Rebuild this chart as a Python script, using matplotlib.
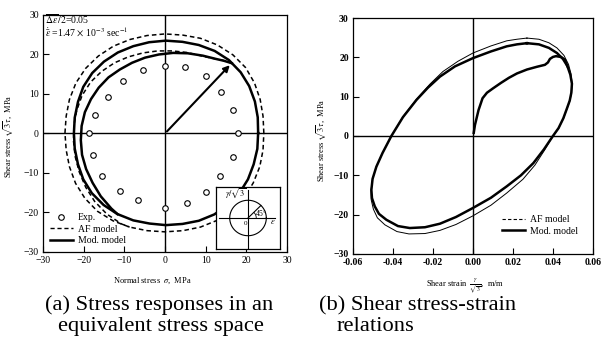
import numpy as np
import matplotlib.pyplot as plt
from matplotlib.lines import Line2D

plt.rcParams['font.family'] = ['Liberation Serif', 'DejaVu Serif']
plt.rcParams['mathtext.fontset'] = 'stix'

# (a) stress path, sigma / sqrt(3)tau in MPa
exp_sigma = [0, 4.9, 10.2, 13.8, 16.8, 18.0, 16.8, 13.5, 10.1, 5.3,
             0, -6.6, -11.1, -15.6, -17.8, -18.6, -17.2, -13.9, -10.4, -5.3]
exp_tau = [17.2, 16.8, 14.6, 10.4, 5.9, 0.0, -5.9, -10.8, -14.9, -17.7,
           -18.8, -16.8, -14.6, -10.7, -5.5, 0.1, 4.7, 9.3, 13.3, 16.1]

load_sigma = [0, 16.4]
load_tau = [0, 17.8]

mod_first_sigma = [16.4, 14.5, 12.4, 9.3, 5.6, 2.0, -1.5, -4.9, -8.1, -11.1, -13.9,
                   -16.3, -18.2, -19.7, -20.5, -20.7, -20.4, -19.4, -17.8, -15.8,
                   -13.2, -11.7]
mod_first_tau = [17.8, 18.4, 18.9, 19.7, 20.3, 20.4, 20.0, 19.2, 17.9, 16.2, 14.2,
                 11.6, 8.7, 5.4, 1.9, -1.7, -5.4, -9.0, -12.5, -15.9,
                 -19.0, -20.4]
mod_loop_sigma = [22.9, 22.8, 22.1, 20.7, 18.6, 15.7, 12.2, 8.3, 4.3, 0.2, -3.9, -7.8,
                  -11.6, -15.0, -17.9, -20.1, -21.4, -22.2, -22.4, -22.2, -21.4, -20.1,
                  -18.0, -15.1, -11.7, -7.8, -3.8, 0.2, 4.3, 8.3, 12.1, 15.5, 18.3, 20.4,
                  21.8, 22.7, 22.9]
mod_loop_tau = [0.1, 4.1, 8.1, 12.0, 15.5, 18.6, 20.9, 22.4, 23.2, 23.5, 23.1, 22.1,
                20.5, 18.2, 15.3, 11.8, 8.0, 4.0, 0.1, -3.8, -7.8, -11.6,
                -15.1, -18.1, -20.4, -22.0, -22.8, -23.2, -22.9, -22.1, -20.5, -18.1,
                -15.1, -11.6, -7.8, -3.9, 0.1]

af_first_sigma = [16.4, 14.3, 11.8, 9.1, 5.5, 1.8, -1.8, -5.4, -9.0, -12.4, -15.6,
                  -18.3, -20.4, -21.7, -22.4, -22.5, -22.1, -21.1, -19.5, -17.3, -14.3,
                  -10.7, -8.7]
af_first_tau = [17.8, 18.5, 19.0, 19.6, 20.5, 20.9, 20.9, 20.4, 19.4, 17.9, 15.7,
                13.0, 9.6, 5.9, 2.1, -1.9, -5.8, -9.7, -13.6, -17.2, -20.4,
                -22.9, -23.7]
af_loop_sigma = [24.3, 24.1, 23.4, 22.0, 19.8, 16.7, 12.9, 8.7, 4.4, 0.0, -4.4, -8.6,
                 -12.7, -16.4, -19.5, -21.9, -23.5, -24.3, -24.6, -24.3, -23.5, -22.0,
                 -19.7, -16.6, -12.8, -8.7, -4.4, 0.0, 4.4, 8.7, 12.8, 16.5, 19.5, 21.7,
                 23.3, 24.1, 24.3]
af_loop_tau = [0.1, 4.4, 8.6, 12.8, 16.7, 19.9, 22.4, 24.1, 24.9, 25.2, 24.8, 23.8,
               22.1, 19.6, 16.5, 12.8, 8.6, 4.4, 0.1, -4.2, -8.4, -12.6,
               -16.4, -19.7, -22.1, -23.7, -24.6, -24.9, -24.6, -23.7, -22.0, -19.5,
               -16.2, -12.5, -8.4, -4.2, 0.1]

# (b) shear stress-strain, gamma/sqrt(3) in m/m
mod_load_gam = [0.0004, 0.0010, 0.0028, 0.0048, 0.007, 0.010, 0.014, 0.018, 0.022,
                0.027, 0.032, 0.036, 0.0375, 0.0385, 0.040, 0.0415, 0.044, 0.046, 0.0472]
mod_load_tau = [0.8, 2.8, 6.6, 9.6, 11.0, 12.1, 13.5, 14.8, 15.9,
                16.9, 17.6, 18.1, 18.7, 19.6, 20.1, 20.3, 20.1, 19.4, 17.8]
mod_gam = [0.027, 0.033, 0.038, 0.042, 0.045, 0.0472, 0.0487, 0.0495, 0.0492, 0.0484,
           0.0470, 0.0452, 0.0428, 0.0400, 0.0355, 0.0302, 0.024, 0.0169, 0.009, 0.0,
           -0.0085, -0.0165, -0.024, -0.0316, -0.0375, -0.0433, -0.0470, -0.0491, -0.0505,
           -0.0508, -0.0502, -0.0483, -0.0452, -0.0408, -0.035, -0.0282, -0.0225, -0.0165,
           -0.009, 0.0, 0.009, 0.0169, 0.022, 0.027]
mod_tau = [23.6, 23.3, 22.4, 21.1, 19.6, 17.8, 15.6, 13.3, 11.0, 9.0,
           7.0, 4.5, 2.0, 0.0, -3.4, -6.9, -10.0, -12.8, -15.7, -18.3,
           -20.6, -22.3, -23.2, -23.4, -22.9, -21.3, -19.8, -17.9, -15.8,
           -13.7, -10.9, -7.8, -4.3, 0.0, 4.8, 9.2, 12.3, 15.1,
           17.7, 19.8, 21.5, 22.8, 23.3, 23.6]
af_gam = [0.027, 0.033, 0.038, 0.042, 0.0455, 0.0478, 0.0490, 0.0496, 0.0493, 0.0485,
          0.0471, 0.0453, 0.0429, 0.0400, 0.0358, 0.0310, 0.025, 0.0169, 0.009, 0.0,
          -0.0085, -0.0165, -0.024, -0.032, -0.038, -0.0440, -0.0478, -0.0498, -0.0509,
          -0.0510, -0.0502, -0.0483, -0.0452, -0.0408, -0.035, -0.0282, -0.0215, -0.0150,
          -0.0075, 0.0, 0.009, 0.0169, 0.022, 0.027]
af_tau = [24.9, 24.6, 23.7, 22.4, 20.5, 18.2, 15.9, 13.4, 11.0, 9.0,
          7.0, 4.5, 2.0, 0.0, -3.6, -7.4, -11.0, -14.5, -17.6, -20.3,
          -22.5, -24.0, -24.8, -24.9, -24.3, -22.6, -20.8, -18.6, -16.2,
          -13.9, -10.9, -7.8, -4.3, 0.0, 4.9, 9.4, 13.2, 16.4,
          19.0, 21.1, 22.9, 24.2, 24.6, 24.9]

fig = plt.figure(figsize=(6.09, 3.45), dpi=100)
ax1 = fig.add_axes([0.0706, 0.2696, 0.4007, 0.687])
ax2 = fig.add_axes([0.5796, 0.2638, 0.394, 0.684])

for ax in (ax1, ax2):
    ax.axhline(0, color='k', lw=1.0, zorder=1)
    ax.axvline(0, color='k', lw=1.0, zorder=1)
    ax.tick_params(direction='in', length=4, width=0.8, labelsize=7, pad=3)
    for s in ax.spines.values():
        s.set_linewidth(0.9)

# --- (a)
ax1.plot(af_loop_sigma, af_loop_tau, 'k--', lw=1.1, dashes=(3, 2))
ax1.plot(af_first_sigma, af_first_tau, 'k--', lw=1.1, dashes=(3, 2))
ax1.plot(mod_loop_sigma, mod_loop_tau, 'k-', lw=1.8)
ax1.plot(mod_first_sigma, mod_first_tau, 'k-', lw=1.8)
ax1.annotate('', xy=(load_sigma[1], load_tau[1]), xytext=(load_sigma[0], load_tau[0]),
             arrowprops=dict(arrowstyle='-|>', color='k', lw=1.5, mutation_scale=9))
ax1.plot(exp_sigma, exp_tau, 'o', mfc='white', mec='k', ms=4, mew=0.8, zorder=5)

ax1.set_xlim(-30, 30)
ax1.set_ylim(-30, 30)
ax1.set_xticks(np.arange(-30, 31, 10))
ax1.set_yticks(np.arange(-30, 31, 10))
ax1.set_xlabel(r'Normal stress  $\sigma$,  MPa', fontsize=6)
ax1.set_ylabel(r'Shear stress $\sqrt{3}\tau$,  MPa', fontsize=6)
ax1.xaxis.set_label_coords(0.45, -0.1)
ax1.yaxis.set_label_coords(-0.115, 0.49)

ax1.text(0.01, 0.983, r'$\overline{\Delta\varepsilon}\,/2$=0.05', transform=ax1.transAxes,
         fontsize=7, va='center', ha='left')
ax1.text(0.01, 0.927, r'$\dot{\bar{\varepsilon}}$ =1.47 $\times$ 10$^{-3}$ sec$^{-1}$',
         transform=ax1.transAxes, fontsize=7, va='center', ha='left')

h1 = [Line2D([], [], ls='none', marker='o', mfc='white', mec='k', ms=4, mew=0.8),
      Line2D([], [], color='k', ls='--', lw=1.0, dashes=(3, 2)),
      Line2D([], [], color='k', lw=1.8)]
ax1.legend(h1, ['Exp.', 'AF model', 'Mod. model'], loc='lower left', fontsize=7,
           frameon=False, handlelength=2.4, handletextpad=0.5, labelspacing=0.25,
           borderaxespad=0.3, bbox_to_anchor=(0.0, 0.0))

# inset: strain path sketch
ins = fig.add_axes([0.3547, 0.2783, 0.1051, 0.1797])
ins.set_xlim(-1.75, 1.75)
ins.set_ylim(-1.75, 1.75)
ins.set_xticks([])
ins.set_yticks([])
for s in ins.spines.values():
    s.set_linewidth(0.9)
th = np.linspace(0, 2 * np.pi, 100)
ins.plot(np.cos(th), np.sin(th), 'k-', lw=0.8)
ins.plot([-1.58, 1.47], [0, 0], 'k-', lw=0.8)
ins.plot([0, 0], [-1.75, 1.57], 'k-', lw=0.8)
ins.plot([0, np.cos(np.pi / 4)], [0, np.sin(np.pi / 4)], 'k-', lw=0.8)
ins.plot(0.45 * np.cos(th[:13]), 0.45 * np.sin(th[:13]), 'k-', lw=0.6)
ins.text(-0.08, 1.42, r'$\gamma/\sqrt{3}$', fontsize=6, ha='right', va='center')
ins.text(1.35, -0.22, r'$\varepsilon$', fontsize=6, ha='center', va='center')
ins.text(-0.14, -0.3, '0', fontsize=5, ha='center', va='center')
ins.text(0.72, 0.3, r'45$\degree$', fontsize=5.5, ha='center', va='center')

# --- (b)
ax2.plot(af_gam, af_tau, 'k-', lw=0.7)
ax2.plot(mod_gam, mod_tau, 'k-', lw=1.8)
ax2.plot(mod_load_gam, mod_load_tau, 'k-', lw=1.8)
ax2.set_xlim(-0.06, 0.06)
ax2.set_ylim(-30, 30)
ax2.set_xticks(np.arange(-0.06, 0.061, 0.02))
ax2.set_yticks(np.arange(-30, 31, 10))
ax2.set_xticklabels(['-0.06', '-0.04', '-0.02', '0.00', '0.02', '0.04', '0.06'])
ax2.set_xlabel(r'Shear strain  $\frac{\gamma}{\sqrt{3}}$,  m/m', fontsize=6)
ax2.set_ylabel(r'Shear stress $\sqrt{3}\tau$,  MPa', fontsize=6)
ax2.xaxis.set_label_coords(0.467, -0.1)
ax2.yaxis.set_label_coords(-0.104, 0.48)
for lab in ax2.get_xticklabels() + ax2.get_yticklabels():
    lab.set_fontweight('bold')

h2 = [Line2D([], [], color='k', ls='--', lw=0.8, dashes=(3, 2)),
      Line2D([], [], color='k', lw=1.8)]
ax2.legend(h2, ['AF model', 'Mod. model'], loc='lower right', fontsize=7, frameon=False,
           handlelength=2.4, handletextpad=0.5, labelspacing=0.25,
           bbox_to_anchor=(0.975, 0.04))

fig.text(45 / 609, 1 - 310 / 345, '(a) Stress responses in an', fontsize=16.2,
         ha='left', va='baseline')
fig.text(58 / 609, 1 - 331 / 345, 'equivalent stress space', fontsize=16.2,
         ha='left', va='baseline')
fig.text(319 / 609, 1 - 310 / 345, '(b) Shear stress-strain', fontsize=16.2,
         ha='left', va='baseline')
fig.text(337 / 609, 1 - 331 / 345, 'relations', fontsize=16.2, ha='left', va='baseline')

fig.savefig('out.png', dpi=100)
